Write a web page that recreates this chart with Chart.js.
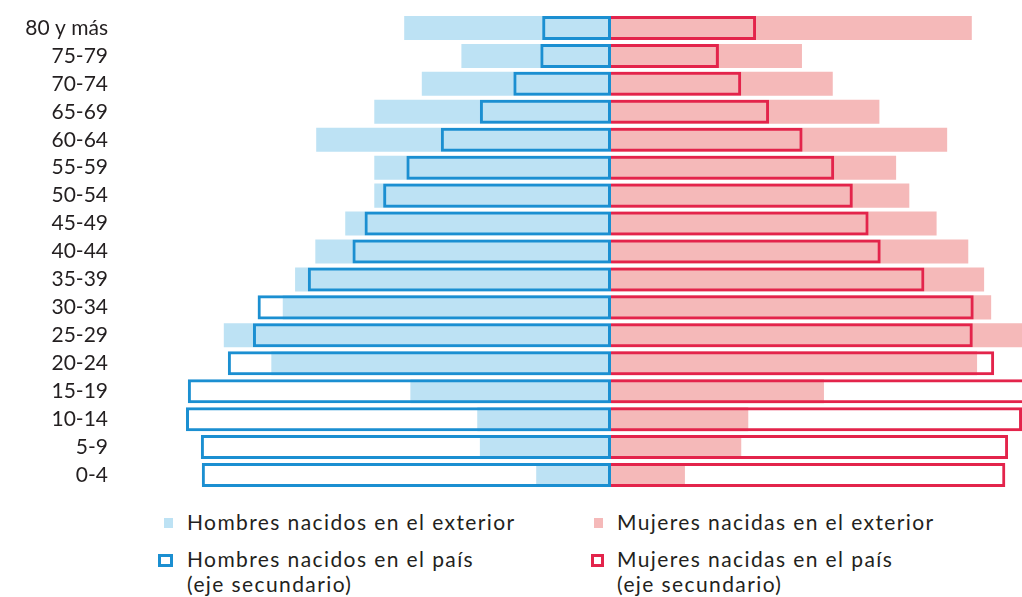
<!DOCTYPE html>
<html lang="es">
<head>
<meta charset="utf-8">
<title>Pirámide de población</title>
<script src="https://cdn.jsdelivr.net/npm/chart.js@4.4.1/dist/chart.umd.min.js"></script>
<style>
  html, body { margin: 0; padding: 0; background: #fff; overflow: hidden; }
  #wrap { position: relative; width: 1022px; height: 597px; font-family: Lato, "Open Sans", sans-serif; color: #231f20; }
  #wrap canvas { position: absolute; left: 0; top: 0; }
  .ley { position: absolute; font-size: 21px; line-height: 25px; letter-spacing: 1.4px; white-space: nowrap; }
  .cuadro { position: absolute; box-sizing: border-box; }
</style>
</head>
<body>
<div id="wrap">
  <canvas id="piramide" width="1022" height="500"></canvas>

  <div class="cuadro" style="left:164px;top:518px;width:9px;height:10px;background:#bde2f4"></div>
  <div class="ley" style="left:187px;top:509px">Hombres nacidos en el exterior</div>
  <div class="cuadro" style="left:594px;top:518px;width:9px;height:10px;background:#f5b9b9"></div>
  <div class="ley" style="left:617px;top:509px">Mujeres nacidas en el exterior</div>

  <div class="cuadro" style="left:158px;top:554px;width:15px;height:13px;border:3px solid #1b8fd1"></div>
  <div class="ley" style="left:187px;top:546px">Hombres nacidos en el país<br>(eje secundario)</div>
  <div class="cuadro" style="left:591px;top:554px;width:13px;height:13px;border:3px solid #e3244b"></div>
  <div class="ley" style="left:617px;top:546px">Mujeres nacidas en el país<br>(eje secundario)</div>
</div>

<script>
// grupos de edad, de arriba hacia abajo
const edades = ['80 y más', '75-79', '70-74', '65-69', '60-64', '55-59', '50-54', '45-49',
  '40-44', '35-39', '30-34', '25-29', '20-24', '15-19', '10-14', '5-9', '0-4'];

// % de la población nacida en el exterior (eje principal)
const hombresExterior = [2.35, 1.70, 2.15, 2.69, 3.35, 2.69, 2.69, 3.02, 3.36, 3.59, 3.73, 4.40, 3.86, 2.28, 1.52, 1.49, 0.85];
const mujeresExterior = [4.10, 2.17, 2.52, 3.05, 3.82, 3.24, 3.39, 3.70, 4.06, 4.24, 4.32, 4.90, 4.16, 2.42, 1.56, 1.48, 0.84];

// % de la población nacida en el país (eje secundario)
const hombresPais = [0.74, 0.76, 1.05, 1.41, 1.83, 2.20, 2.45, 2.65, 2.78, 3.26, 3.80, 3.85, 4.12, 4.55, 4.57, 4.41, 4.40];
const mujeresPais = [1.56, 1.16, 1.40, 1.70, 2.06, 2.40, 2.60, 2.77, 2.90, 3.37, 3.90, 3.89, 4.12, 4.49, 4.42, 4.27, 4.24];

// el cero queda en x=611, el área del gráfico va de 118 a 1022
const izq = 611 - 118, der = 1022 - 611;
const pxPrincipal = 88, pxSecundario = 93;

const negativo = arr => arr.map(v => -v);

new Chart(document.getElementById('piramide'), {
  type: 'bar',
  data: {
    labels: edades,
    datasets: [
      {
        label: 'Hombres nacidos en el exterior',
        data: negativo(hombresExterior),
        xAxisID: 'x',
        backgroundColor: '#bde2f4',
        order: 2
      },
      {
        label: 'Mujeres nacidas en el exterior',
        data: mujeresExterior,
        xAxisID: 'x',
        backgroundColor: '#f5b9b9',
        order: 2
      },
      {
        label: 'Hombres nacidos en el país (eje secundario)',
        data: negativo(hombresPais),
        xAxisID: 'x2',
        backgroundColor: 'rgba(0,0,0,0)',
        borderColor: '#1b8fd1',
        borderWidth: 3,
        borderSkipped: false,
        order: 1
      },
      {
        label: 'Mujeres nacidas en el país (eje secundario)',
        data: mujeresPais,
        xAxisID: 'x2',
        backgroundColor: 'rgba(0,0,0,0)',
        borderColor: '#e3244b',
        borderWidth: 3,
        borderSkipped: 'start',
        order: 1
      }
    ]
  },
  options: {
    indexAxis: 'y',
    responsive: false,
    animation: false,
    layout: {
      padding: { top: 14, bottom: 11, left: 0, right: 0 }
    },
    datasets: {
      bar: { grouped: false, barPercentage: 0.86, categoryPercentage: 1 }
    },
    scales: {
      x: {
        display: false,
        min: -izq / pxPrincipal,
        max: der / pxPrincipal
      },
      x2: {
        display: false,
        min: -izq / pxSecundario,
        max: der / pxSecundario
      },
      y: {
        position: 'left',
        grid: { display: false, drawTicks: false },
        border: { display: false },
        ticks: {
          autoSkip: false,
          padding: 10,
          color: '#231f20',
          font: { family: 'Lato', size: 21 }
        },
        afterFit: function (scale) {
          scale.width = 118;
          scale.paddingTop = 0;
          scale.paddingBottom = 0;
        }
      }
    },
    plugins: {
      legend: { display: false },
      tooltip: {
        callbacks: {
          label: function (context) {
            return `${context.dataset.label}: ${Math.abs(context.raw).toFixed(2)}%`;
          }
        }
      }
    }
  }
});
</script>
</body>
</html>
